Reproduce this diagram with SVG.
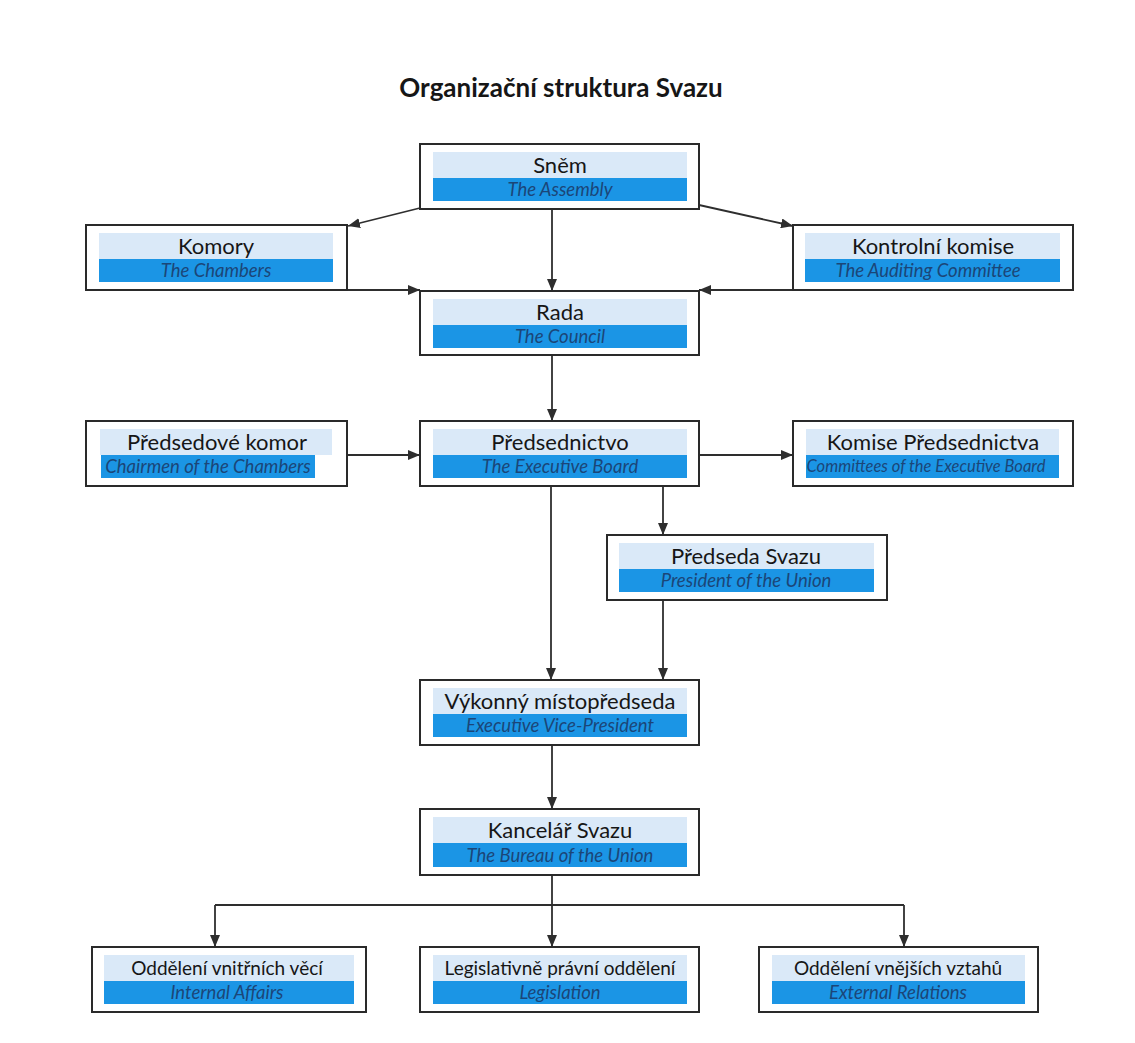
<svg xmlns="http://www.w3.org/2000/svg" width="1135" height="1043" viewBox="0 0 1135 1043">
<style>
.box{fill:#ffffff;stroke:#2a2a2a;stroke-width:2}
.lt{fill:#dae9f8}
.dk{fill:#1b95e5}
.t{font-family:Lato,"Open Sans","Liberation Sans",sans-serif;font-size:22px;fill:#161616;text-anchor:middle}
.tb{font-size:19px}
.e{font-family:Lato,"Open Sans","Liberation Sans",sans-serif;font-size:18.5px;font-style:italic;fill:#1b4678;text-anchor:middle}
.title{font-family:Lato,"Open Sans","Liberation Sans",sans-serif;font-size:26px;font-weight:bold;fill:#161616;text-anchor:middle}
.c{fill:none;stroke:#2e2e2e;stroke-width:1.8}
</style>
<defs>
<marker id="ah" viewBox="0 0 12 10" refX="12" refY="5" markerWidth="12" markerHeight="10" markerUnits="userSpaceOnUse" orient="auto">
<path d="M0,0 L12,5 L0,10 Z" fill="#2e2e2e"/>
</marker>
</defs>
<rect width="1135" height="1043" fill="#ffffff"/>
<text class="title" x="561" y="97">Organizační struktura Svazu</text>

<g id="connectors">
<path class="c" d="M552,209 V291" marker-end="url(#ah)"/>
<path class="c" d="M420,208 L348,226" marker-end="url(#ah)"/>
<path class="c" d="M699,205 L793,226" marker-end="url(#ah)"/>
<path class="c" d="M347,290 H420" marker-end="url(#ah)"/>
<path class="c" d="M793,290 H699" marker-end="url(#ah)"/>
<path class="c" d="M552,355 V421" marker-end="url(#ah)"/>
<path class="c" d="M347,455 H420" marker-end="url(#ah)"/>
<path class="c" d="M699,455 H793" marker-end="url(#ah)"/>
<path class="c" d="M663,486 V535" marker-end="url(#ah)"/>
<path class="c" d="M551,486 V680" marker-end="url(#ah)"/>
<path class="c" d="M663,600 V680" marker-end="url(#ah)"/>
<path class="c" d="M552,745 V809" marker-end="url(#ah)"/>
<path class="c" d="M552,875 V947" marker-end="url(#ah)"/>
<path class="c" d="M215,905 H904"/>
<path class="c" d="M215,905 V947" marker-end="url(#ah)"/>
<path class="c" d="M904,905 V947" marker-end="url(#ah)"/>
</g>

<g id="snem">
<rect class="box" x="420" y="144" width="279" height="65"/>
<rect class="lt" x="433" y="152" width="254" height="26"/>
<rect class="dk" x="433" y="178" width="254" height="23"/>
<text class="t" x="560" y="173">Sněm</text>
<text class="e" x="560" y="196">The Assembly</text>
</g>

<g id="komory">
<rect class="box" x="86" y="225" width="261" height="65"/>
<rect class="lt" x="99" y="233" width="234" height="26"/>
<rect class="dk" x="99" y="259" width="234" height="23"/>
<text class="t" x="216" y="254">Komory</text>
<text class="e" x="216" y="277">The Chambers</text>
</g>

<g id="kontrolni">
<rect class="box" x="793" y="225" width="280" height="65"/>
<rect class="lt" x="805" y="233" width="255" height="26"/>
<rect class="dk" x="805" y="259" width="255" height="23"/>
<text class="t" x="933" y="254">Kontrolní komise</text>
<text class="e" x="928" y="277">The Auditing Committee</text>
</g>

<g id="rada">
<rect class="box" x="420" y="291" width="279" height="64"/>
<rect class="lt" x="433" y="299" width="254" height="26"/>
<rect class="dk" x="433" y="325" width="254" height="23"/>
<text class="t" x="560" y="320">Rada</text>
<text class="e" x="560" y="343">The Council</text>
</g>

<g id="predsedove">
<rect class="box" x="86" y="421" width="261" height="65"/>
<rect class="lt" x="100" y="429" width="232" height="26"/>
<rect class="dk" x="101" y="455" width="214" height="23"/>
<text class="t" x="217" y="450">Předsedové komor</text>
<text class="e" x="208" y="473">Chairmen of the Chambers</text>
</g>

<g id="predsednictvo">
<rect class="box" x="420" y="421" width="279" height="65"/>
<rect class="lt" x="433" y="429" width="254" height="26"/>
<rect class="dk" x="433" y="455" width="254" height="23"/>
<text class="t" x="560" y="450">Předsednictvo</text>
<text class="e" x="560" y="473">The Executive Board</text>
</g>

<g id="komise">
<rect class="box" x="793" y="421" width="280" height="65"/>
<rect class="lt" x="806" y="429" width="253" height="26"/>
<rect class="dk" x="806" y="455" width="253" height="23"/>
<text class="t" x="933" y="450">Komise Předsednictva</text>
<text class="e" x="926" y="472" style="font-size:16.5px">Committees of the Executive Board</text>
</g>

<g id="predseda">
<rect class="box" x="607" y="535" width="280" height="65"/>
<rect class="lt" x="619" y="543" width="255" height="26"/>
<rect class="dk" x="619" y="569" width="255" height="23"/>
<text class="t" x="746" y="564">Předseda Svazu</text>
<text class="e" x="746" y="587">President of the Union</text>
</g>

<g id="vykonny">
<rect class="box" x="420" y="680" width="279" height="65"/>
<rect class="lt" x="433" y="688" width="254" height="26"/>
<rect class="dk" x="433" y="714" width="254" height="23"/>
<text class="t" x="560" y="709">Výkonný místopředseda</text>
<text class="e" x="560" y="732">Executive Vice-President</text>
</g>

<g id="kancelar">
<rect class="box" x="420" y="809" width="279" height="66"/>
<rect class="lt" x="433" y="817" width="254" height="26"/>
<rect class="dk" x="433" y="843" width="254" height="24"/>
<text class="t" x="560" y="838">Kancelář Svazu</text>
<text class="e" x="560" y="862">The Bureau of the Union</text>
</g>

<g id="vnitrni">
<rect class="box" x="92" y="947" width="274" height="65"/>
<rect class="lt" x="104" y="955" width="250" height="26"/>
<rect class="dk" x="104" y="981" width="250" height="23"/>
<text class="t tb" x="227" y="975">Oddělení vnitřních věcí</text>
<text class="e" x="227" y="999">Internal Affairs</text>
</g>

<g id="legislativa">
<rect class="box" x="420" y="947" width="279" height="65"/>
<rect class="lt" x="433" y="955" width="254" height="26"/>
<rect class="dk" x="433" y="981" width="254" height="23"/>
<text class="t tb" x="560" y="975">Legislativně právní oddělení</text>
<text class="e" x="560" y="999">Legislation</text>
</g>

<g id="vnejsi">
<rect class="box" x="759" y="947" width="279" height="65"/>
<rect class="lt" x="772" y="955" width="253" height="26"/>
<rect class="dk" x="772" y="981" width="253" height="23"/>
<text class="t tb" x="898" y="975">Oddělení vnějších vztahů</text>
<text class="e" x="898" y="999">External Relations</text>
</g>
</svg>
